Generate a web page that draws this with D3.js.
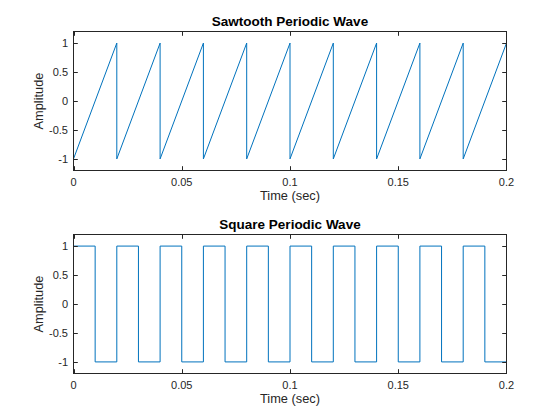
<!DOCTYPE html>
<html>
<head>
<meta charset="utf-8">
<script src="https://cdn.jsdelivr.net/npm/d3@7"></script>
<style>
  body { margin: 0; background: #fff; }
  svg { display: block; }
  text { font-family: "Liberation Sans", Arial, Helvetica, sans-serif; }
</style>
</head>
<body>
<svg id="chart" width="560" height="420"></svg>
<script>
// ---- data ----
const xTicks = [0, 0.05, 0.1, 0.15, 0.2];
const xTickLabels = ["0", "0.05", "0.1", "0.15", "0.2"];
const yTicks = [-1, -0.5, 0, 0.5, 1];
const yTickLabels = ["-1", "-0.5", "0", "0.5", "1"];

// Sawtooth vertices (time in sec, amplitude)
const sawTime = [0, 0.02, 0.02, 0.04, 0.04, 0.06, 0.06, 0.08, 0.08, 0.10, 0.10,
                 0.12, 0.12, 0.14, 0.14, 0.16, 0.16, 0.18, 0.18, 0.20, 0.20];
const sawValue = [-1, 1, -1, 1, -1, 1, -1, 1, -1, 1, -1,
                  1, -1, 1, -1, 1, -1, 1, -1, 1, -1];

// Square vertices (time in sec, amplitude)
const sqTime = [0, 0.01, 0.01, 0.02, 0.02, 0.03, 0.03, 0.04, 0.04, 0.05, 0.05,
                0.06, 0.06, 0.07, 0.07, 0.08, 0.08, 0.09, 0.09, 0.10, 0.10,
                0.11, 0.11, 0.12, 0.12, 0.13, 0.13, 0.14, 0.14, 0.15, 0.15,
                0.16, 0.16, 0.17, 0.17, 0.18, 0.18, 0.19, 0.19, 0.20, 0.20];
const sqValue = [1, 1, -1, -1, 1, 1, -1, -1, 1, 1, -1,
                 -1, 1, 1, -1, -1, 1, 1, -1, -1, 1,
                 1, -1, -1, 1, 1, -1, -1, 1, 1, -1,
                 -1, 1, 1, -1, -1, 1, 1, -1, -1, 1];

const panels = [
  { title: "Sawtooth Periodic Wave", t: sawTime, v: sawValue, top: 31.5, bottom: 170.5 },
  { title: "Square Periodic Wave", t: sqTime, v: sqValue, top: 234.5, bottom: 373.5 }
];

const svg = d3.select("#chart");
const left = 73.5, right = 506.5;
const axisColor = "#262626";
const tickLen = 4.3;

panels.forEach(p => {
  const x = d3.scaleLinear().domain([0, 0.2]).range([left, right]);
  const y = d3.scaleLinear().domain([-1.2, 1.2]).range([p.bottom, p.top]);
  const g = svg.append("g");

  // line
  const pts = p.t.map((t, i) => [t, p.v[i]]);
  g.append("path")
    .attr("d", d3.line().x(d => x(d[0])).y(d => y(d[1]))(pts))
    .attr("fill", "none")
    .attr("stroke", "#0072BD")
    .attr("stroke-width", 1);

  // box
  g.append("rect")
    .attr("x", left).attr("y", p.top)
    .attr("width", right - left).attr("height", p.bottom - p.top)
    .attr("fill", "none").attr("stroke", axisColor).attr("stroke-width", 1);

  // x ticks (bottom and top, inward)
  xTicks.forEach((tv, i) => {
    const xp = Math.round(x(tv)) + 0.5 - (i === xTicks.length - 1 ? 1 : 0);
    g.append("line").attr("x1", xp).attr("x2", xp)
      .attr("y1", p.bottom).attr("y2", p.bottom - tickLen)
      .attr("stroke", axisColor);
    g.append("line").attr("x1", xp).attr("x2", xp)
      .attr("y1", p.top).attr("y2", p.top + tickLen)
      .attr("stroke", axisColor);
    g.append("text").attr("x", x(tv)).attr("y", p.bottom + 15.5)
      .attr("text-anchor", "middle").attr("font-size", "11px")
      .attr("fill", axisColor).text(xTickLabels[i]);
  });

  // y ticks (left and right, inward)
  yTicks.forEach((tv, i) => {
    const yp = Math.round(y(tv)) + 0.5;
    g.append("line").attr("x1", left).attr("x2", left + tickLen)
      .attr("y1", yp).attr("y2", yp).attr("stroke", axisColor);
    g.append("line").attr("x1", right).attr("x2", right - tickLen)
      .attr("y1", yp).attr("y2", yp).attr("stroke", axisColor);
    g.append("text").attr("x", left - 5.5).attr("y", y(tv) + 4)
      .attr("text-anchor", "end").attr("font-size", "11px")
      .attr("fill", axisColor).text(yTickLabels[i]);
  });

  // title
  g.append("text").attr("x", (left + right) / 2).attr("y", p.top - 6)
    .attr("text-anchor", "middle").attr("font-size", "13.5px")
    .attr("font-weight", "bold").attr("fill", "#000").text(p.title);

  // x label
  g.append("text").attr("x", (left + right) / 2).attr("y", p.bottom + 29.5)
    .attr("text-anchor", "middle").attr("font-size", "12.8px")
    .attr("fill", axisColor).text("Time (sec)");

  // y label
  const yc = (p.top + p.bottom) / 2;
  g.append("text").attr("transform", `translate(42.5,${yc}) rotate(-90)`)
    .attr("text-anchor", "middle").attr("font-size", "12.8px")
    .attr("fill", axisColor).text("Amplitude");
});
</script>
</body>
</html>
